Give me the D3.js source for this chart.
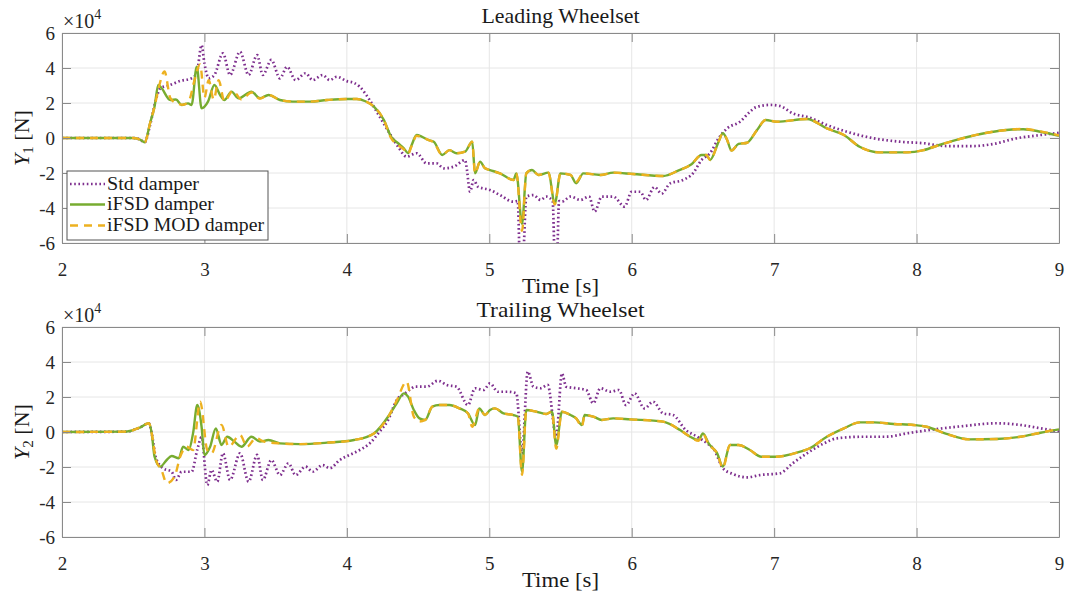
<!DOCTYPE html>
<html><head><meta charset="utf-8">
<script src="https://cdn.jsdelivr.net/npm/d3@7"></script>
<style>body{margin:0;background:#fff}svg{display:block}</style>
</head><body>
<svg id="c" width="1067" height="595"></svg>
<script>
// ---- data (force values in units of 10^4 N) ----
const xTicks = [2,3,4,5,6,7,8,9];
const yTicks = [-6,-4,-2,0,2,4,6];
const seriesNames = ["Std damper","iFSD damper","iFSD MOD damper"];
const panelTitles = ["Leading Wheelset","Trailing Wheelset"];

// Leading wheelset
const tStd1 = [2.0,2.5,2.55,2.58,2.62,2.66,2.69,2.76,2.83,2.91,2.946,2.98,3.00,3.03,3.07,3.13,3.18,3.25,3.31,3.37,3.41,3.47,3.53,3.58,3.64,3.71,3.76,3.83,3.88,3.93,4.0,4.05,4.09,4.16,4.23,4.30,4.36,4.42,4.49,4.56,4.63,4.68,4.75,4.83,4.84,4.865,4.89,4.92,5.005,5.075,5.17,5.20,5.215,5.235,5.26,5.31,5.36,5.40,5.445,5.46,5.475,5.49,5.51,5.57,5.64,5.70,5.74,5.79,5.87,5.95,6.0,6.06,6.10,6.16,6.21,6.27,6.36,6.43,6.49,6.55,6.61,6.67,6.76,6.83,6.87,6.97,7.04,7.13,7.25,7.37,7.51,7.70,7.88,8.05,8.21,8.40,8.54,8.70,8.87,9.0];
const yStd1 = [0,0,-0.1,-0.25,0.8,2.2,2.84,3.03,3.26,3.41,3.70,5.31,4.27,3.41,3.60,4.84,3.60,4.93,3.60,4.74,3.60,4.46,3.41,4.07,3.31,3.70,3.31,3.60,3.31,3.50,3.25,3.15,2.93,2.17,1.22,0.27,-0.50,-1.07,-0.87,-1.45,-1.45,-1.73,-1.64,-1.26,-1.64,-3.07,-2.4,-2.78,-2.97,-3.26,-3.64,-3.6,-7.0,-7.0,-3.35,-3.26,-3.54,-3.35,-3.6,-6.8,-6.8,-3.6,-3.64,-3.35,-3.54,-3.35,-4.21,-3.35,-3.35,-3.92,-3.07,-3.07,-3.54,-2.8,-3.18,-2.59,-2.4,-2.02,-1.26,-0.87,-0.02,0.55,0.93,1.5,1.75,1.89,1.83,1.41,1.16,0.74,0.36,-0.02,-0.21,-0.30,-0.46,-0.46,-0.34,-0.02,0.17,0.30];

const tFsd1 = [2.0,2.5,2.55,2.58,2.62,2.65,2.676,2.70,2.76,2.80,2.84,2.885,2.91,2.946,2.98,3.025,3.07,3.11,3.14,3.19,3.24,3.33,3.39,3.45,3.53,3.62,3.74,3.86,4.0,4.07,4.13,4.19,4.26,4.31,4.36,4.40,4.43,4.455,4.49,4.525,4.57,4.61,4.67,4.72,4.77,4.83,4.88,4.90,4.935,4.97,5.005,5.075,5.17,5.19,5.23,5.26,5.30,5.345,5.415,5.46,5.50,5.57,5.61,5.66,5.78,5.87,6.01,6.22,6.33,6.42,6.49,6.525,6.55,6.61,6.64,6.67,6.70,6.75,6.81,6.88,6.94,7.02,7.23,7.37,7.49,7.60,7.74,7.93,8.05,8.16,8.28,8.45,8.63,8.75,8.87,9.0];
const yFsd1 = [0,0,-0.1,-0.25,0.9,1.8,3.03,2.84,2.17,2.2,1.89,1.98,1.89,4.07,1.70,2.08,3.03,2.46,2.17,2.65,2.27,2.65,2.27,2.46,2.17,2.08,2.08,2.17,2.23,2.23,2.1,1.79,1.03,0.08,-0.30,-0.59,-0.87,-0.40,0.17,0.08,-0.11,-0.21,-0.97,-0.69,-0.87,-0.78,-0.21,-2.02,-1.35,-1.73,-1.83,-2.02,-2.4,-2.02,-4.9,-2.02,-1.83,-2.11,-1.98,-3.73,-2.02,-2.11,-2.59,-2.02,-2.11,-1.98,-2.06,-2.17,-1.85,-1.5,-0.97,-0.97,-1.26,-0.21,0.27,-0.11,-0.72,-0.34,-0.27,0.46,1.03,0.93,1.09,0.55,0.17,-0.50,-0.82,-0.82,-0.69,-0.40,-0.11,0.23,0.46,0.50,0.36,0.12];

const tMod1 = [2.0,2.5,2.55,2.58,2.62,2.65,2.68,2.72,2.76,2.80,2.85,2.89,2.93,2.97,3.00,3.03,3.065,3.10,3.14,3.20,3.26,3.33,3.39,3.45,3.53,3.62,3.74,3.86,4.0,4.07,4.13,4.19,4.26,4.31,4.36,4.40,4.43,4.455,4.49,4.525,4.57,4.61,4.67,4.72,4.77,4.83,4.88,4.90,4.935,4.97,5.005,5.075,5.17,5.19,5.23,5.26,5.30,5.345,5.415,5.46,5.50,5.57,5.61,5.66,5.78,5.87,6.01,6.22,6.33,6.42,6.49,6.525,6.55,6.61,6.64,6.67,6.70,6.75,6.81,6.88,6.94,7.02,7.23,7.37,7.49,7.60,7.74,7.93,8.05,8.16,8.28,8.45,8.63,8.75,8.87,9.0];
const yMod1 = [0,0,-0.1,-0.25,0.9,1.8,2.9,3.8,2.3,2.0,1.9,2.1,3.3,4.2,2.3,3.3,2.2,3.3,2.1,2.7,2.2,2.6,2.25,2.46,2.17,2.08,2.08,2.17,2.23,2.23,2.1,1.79,1.03,0.0,-0.40,-0.65,-0.90,-0.45,0.12,0.05,-0.11,-0.25,-0.97,-0.69,-0.87,-0.78,-0.21,-2.02,-1.35,-1.73,-1.83,-2.02,-2.4,-2.02,-5.3,-2.02,-1.83,-2.11,-1.98,-3.8,-2.02,-2.11,-2.5,-2.02,-2.11,-1.98,-2.06,-2.17,-1.85,-1.5,-0.97,-0.97,-1.26,-0.21,0.27,-0.11,-0.72,-0.34,-0.27,0.46,1.03,0.93,1.09,0.55,0.17,-0.50,-0.82,-0.82,-0.69,-0.40,-0.11,0.23,0.46,0.52,0.38,0.15];

// Trailing wheelset
const tStd2 = [2.0,2.45,2.55,2.61,2.63,2.66,2.71,2.77,2.80,2.84,2.91,2.95,2.98,3.02,3.05,3.09,3.13,3.18,3.25,3.31,3.37,3.41,3.47,3.53,3.59,3.64,3.71,3.76,3.83,3.88,3.95,4.02,4.09,4.16,4.23,4.29,4.35,4.41,4.44,4.48,4.56,4.64,4.70,4.77,4.85,4.90,4.96,5.005,5.06,5.13,5.19,5.23,5.27,5.31,5.36,5.41,5.47,5.51,5.54,5.61,5.68,5.73,5.78,5.85,5.91,5.96,6.02,6.09,6.15,6.22,6.29,6.38,6.46,6.53,6.58,6.64,6.71,6.81,6.90,7.04,7.13,7.23,7.35,7.44,7.63,7.79,7.93,8.12,8.33,8.56,8.73,8.87,9.0];
const yStd2 = [0,0.02,0.27,0.50,-0.08,-1.5,-2.07,-2.27,-2.74,-2.27,-2.27,-1.0,-0.3,-3.03,-2.17,-2.84,-1.22,-2.74,-1.22,-2.84,-1.31,-2.74,-1.6,-2.46,-1.79,-2.46,-1.98,-2.27,-1.89,-2.07,-1.6,-1.31,-1.03,-0.65,0.02,0.69,1.83,2.21,2.40,2.59,2.59,2.93,2.69,2.59,1.54,2.50,2.40,2.78,2.30,2.30,2.21,-1.22,3.45,2.59,2.50,2.69,-0.27,3.35,2.59,2.50,2.40,1.64,2.50,2.30,2.40,1.54,2.21,1.35,1.73,1.07,0.97,0.11,-0.27,-0.65,-1.03,-2.07,-2.4,-2.59,-2.46,-2.36,-1.79,-1.22,-0.65,-0.36,-0.27,-0.27,-0.08,0.15,0.34,0.50,0.40,0.21,0.02];

const tFsd2 = [2.0,2.45,2.55,2.61,2.63,2.65,2.69,2.735,2.77,2.82,2.85,2.89,2.92,2.95,2.98,3.00,3.04,3.08,3.12,3.16,3.21,3.26,3.33,3.39,3.45,3.53,3.67,3.86,4.05,4.19,4.30,4.35,4.40,4.43,4.47,4.51,4.55,4.60,4.65,4.72,4.79,4.85,4.90,4.93,4.97,5.005,5.04,5.10,5.17,5.20,5.23,5.26,5.33,5.40,5.44,5.47,5.51,5.57,5.61,5.65,5.67,5.73,5.79,5.87,5.99,6.22,6.34,6.41,6.47,6.50,6.54,6.60,6.64,6.69,6.75,6.83,6.91,7.02,7.16,7.25,7.37,7.49,7.60,7.70,7.84,7.98,8.07,8.21,8.37,8.56,8.73,8.87,9.0];
const yFsd2 = [0,0.02,0.27,0.50,-0.08,-1.41,-1.98,-1.6,-1.37,-1.5,-0.84,-1.03,-0.08,1.54,0.30,-1.31,-0.84,0.21,-0.74,-0.27,-0.55,-0.84,-0.27,-0.55,-0.46,-0.65,-0.69,-0.61,-0.46,-0.08,1.0,1.64,2.21,2.02,1.26,0.78,0.69,1.45,1.54,1.54,1.35,1.07,0.40,1.35,0.97,1.26,1.35,1.07,0.97,0.88,-2.27,1.26,1.16,1.03,1.16,-0.74,1.16,0.97,0.78,0.40,0.97,0.88,0.69,0.78,0.72,0.59,0.11,-0.27,-0.46,-0.08,-0.65,-1.22,-1.98,-0.74,-0.74,-1.03,-1.41,-1.41,-1.18,-0.93,-0.27,0.21,0.55,0.55,0.46,0.40,0.30,-0.11,-0.42,-0.40,-0.27,-0.04,0.15];

const tMod2 = [2.0,2.45,2.55,2.61,2.63,2.66,2.70,2.735,2.79,2.83,2.875,2.92,2.97,3.02,3.05,3.12,3.17,3.25,3.30,3.36,3.42,3.53,3.67,3.86,4.05,4.19,4.30,4.35,4.42,4.47,4.51,4.55,4.60,4.65,4.72,4.79,4.85,4.88,4.93,4.97,5.005,5.04,5.10,5.17,5.20,5.23,5.26,5.33,5.40,5.44,5.47,5.51,5.57,5.61,5.65,5.67,5.73,5.79,5.87,5.99,6.22,6.34,6.41,6.47,6.50,6.54,6.60,6.64,6.69,6.75,6.83,6.91,7.02,7.16,7.25,7.37,7.49,7.60,7.70,7.84,7.98,8.07,8.21,8.37,8.56,8.73,8.87,9.0];
const yMod2 = [0,0.02,0.27,0.50,-0.08,-1.6,-2.2,-2.93,-2.55,-1.41,-0.84,-1.03,1.73,-1.03,-1.22,0.40,-0.84,-0.17,-0.84,-0.35,-0.55,-0.65,-0.69,-0.61,-0.46,-0.08,1.0,1.8,2.88,0.88,0.6,0.69,1.45,1.54,1.54,1.35,1.07,0.30,1.35,0.97,1.26,1.35,1.07,0.97,0.88,-2.45,1.26,1.16,1.03,1.16,-0.95,1.16,0.97,0.78,0.30,0.97,0.88,0.69,0.78,0.72,0.59,0.11,-0.27,-0.50,-0.12,-0.70,-1.22,-2.05,-0.74,-0.74,-1.03,-1.41,-1.41,-1.18,-0.93,-0.27,0.21,0.55,0.55,0.46,0.40,0.30,-0.11,-0.42,-0.40,-0.27,-0.04,0.18];

// ---- drawing ----
const svg = d3.select("#c");
const FONT = "'Liberation Serif','DejaVu Serif',serif";
const colors = {std:"#7E2F8E", fsd:"#77AC30", mod:"#EDB120"};
const L = 62, R = 1059;
const x = d3.scaleLinear().domain([2,9]).range([L,R]);

const panels = [
  {top:33, bottom:243, title:panelTitles[0], titleW:158, sub:"1",
   series:[[tStd1,yStd1],[tFsd1,yFsd1],[tMod1,yMod1]], legend:true},
  {top:327, bottom:537, title:panelTitles[1], titleW:168, sub:"2",
   series:[[tStd2,yStd2],[tFsd2,yFsd2],[tMod2,yMod2]], legend:false}
];
const styles = [
  {color:colors.std, dash:"1.6,2.6", width:2.7, cap:"butt"},
  {color:colors.fsd, dash:null, width:2.4, cap:"butt"},
  {color:colors.mod, dash:"8,6", width:2.4, cap:"butt"}
];
const legendW = [92,107,157];

panels.forEach((p,pi)=>{
  const y = d3.scaleLinear().domain([-6,6]).range([p.bottom,p.top]);
  const g = svg.append("g");
  // grid
  g.selectAll(".gx").data(xTicks).join("line")
    .attr("x1",d=>x(d)).attr("x2",d=>x(d)).attr("y1",p.top).attr("y2",p.bottom)
    .attr("stroke","#e6e6e6").attr("stroke-width",1);
  g.selectAll(".gy").data(yTicks).join("line")
    .attr("y1",d=>y(d)).attr("y2",d=>y(d)).attr("x1",L).attr("x2",R)
    .attr("stroke","#e6e6e6").attr("stroke-width",1);

  // lines
  const clipId = "clip"+pi;
  svg.append("clipPath").attr("id",clipId).append("rect")
    .attr("x",L).attr("y",p.top).attr("width",R-L).attr("height",p.bottom-p.top);
  const line = d3.line().x(d=>x(d[0])).y(d=>y(d[1])).curve(d3.curveMonotoneX);
  p.series.forEach((s,si)=>{
    const pts = s[0].map((t,i)=>[t,s[1][i]]);
    const st = styles[si];
    g.append("path").attr("d",line(pts)).attr("clip-path",`url(#${clipId})`)
      .attr("fill","none").attr("stroke",st.color).attr("stroke-width",st.width)
      .attr("stroke-dasharray",st.dash).attr("stroke-linecap",st.cap)
      .attr("stroke-linejoin","round");
  });

  // axes (inward ticks on all sides)
  const axCol = "#8a8a8a";
  const ax = (gen, tr)=>{
    const a = g.append("g").attr("transform",tr).call(gen);
    a.select(".domain").attr("stroke",axCol);
    a.selectAll(".tick line").attr("stroke",axCol);
    a.selectAll("text").attr("font-family",FONT).attr("font-size",19).attr("fill","#262626");
    return a;
  };
  ax(d3.axisBottom(x).tickValues(xTicks).tickSize(-9).tickSizeOuter(0).tickPadding(20).tickFormat(d3.format("d")),
     `translate(0,${p.bottom})`);
  ax(d3.axisTop(x).tickValues(xTicks).tickSize(-9).tickSizeOuter(0).tickFormat(""),
     `translate(0,${p.top})`);
  ax(d3.axisLeft(y).tickValues(yTicks).tickSize(-9).tickSizeOuter(0).tickPadding(7).tickFormat(d=>String(d)),
     `translate(${L},0)`);
  ax(d3.axisRight(y).tickValues(yTicks).tickSize(-9).tickSizeOuter(0).tickFormat(""),
     `translate(${R},0)`);

  // title
  g.append("text").attr("x",(L+R)/2).attr("y",p.top-10).attr("text-anchor","middle")
    .attr("font-family",FONT).attr("font-size",21).attr("fill","#1a1a1a")
    .attr("textLength",p.titleW).attr("lengthAdjust","spacingAndGlyphs").text(p.title);
  // x label
  g.append("text").attr("x",(L+R)/2).attr("y",p.bottom+50).attr("text-anchor","middle")
    .attr("font-family",FONT).attr("font-size",21).attr("fill","#1a1a1a")
    .attr("textLength",77).attr("lengthAdjust","spacingAndGlyphs").text("Time [s]");
  // exponent
  const e = g.append("text").attr("x",L+1).attr("y",p.top-5)
    .attr("font-family",FONT).attr("font-size",20).attr("fill","#262626");
  e.append("tspan").text("×10");
  e.append("tspan").attr("font-size",14).attr("dy",-9).text("4");
  // y label
  const yl = g.append("text").attr("transform",`translate(29,${(p.top+p.bottom)/2}) rotate(-90)`)
    .attr("text-anchor","middle").attr("font-family",FONT).attr("font-size",22).attr("fill","#1a1a1a");
  yl.append("tspan").attr("font-style","italic").text("Y");
  yl.append("tspan").attr("font-size",15).attr("dy",4).text(p.sub);
  yl.append("tspan").attr("dy",-4).text(" [N]");

  if(p.legend){
    const lx=67, ly=171, lw=201, lh=69;
    const lg = g.append("g");
    lg.append("rect").attr("x",lx).attr("y",ly).attr("width",lw).attr("height",lh)
      .attr("fill","#fff").attr("stroke","#555").attr("stroke-width",1);
    const rows=[184,204.5,225.5];
    seriesNames.forEach((n,i)=>{
      const st=styles[i];
      lg.append("line").attr("x1",lx+3).attr("x2",lx+38).attr("y1",rows[i]).attr("y2",rows[i])
        .attr("stroke",st.color).attr("stroke-width",st.width).attr("stroke-dasharray",st.dash);
      lg.append("text").attr("x",lx+40).attr("y",rows[i]+5.5).attr("font-family",FONT)
        .attr("font-size",18).attr("fill","#1a1a1a")
        .attr("textLength",legendW[i]).attr("lengthAdjust","spacingAndGlyphs").text(n);
    });
  }
});
</script>
</body></html>
